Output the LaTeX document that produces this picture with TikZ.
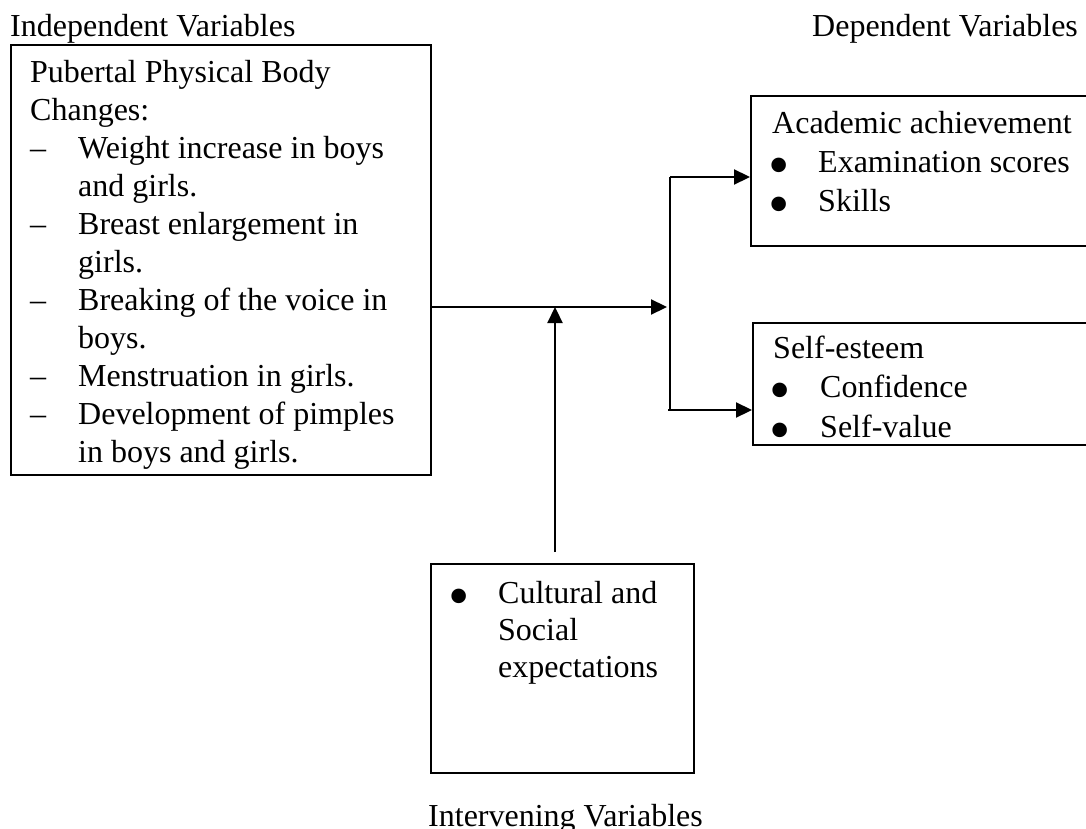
\documentclass[tikz,border=0pt]{standalone}
\usepackage{fontspec}
\setmainfont{Liberation Serif}
\usepackage{graphicx}
\usetikzlibrary{arrows.meta}
\newcommand\bul{\hspace*{-4pt}\smash{\raisebox{-13pt}{\scalebox{1.9}{•}}}}
\newcommand\mk[2]{\makebox[#1][l]{#2}}
\begin{document}
\begin{tikzpicture}[x=1pt,y=-1pt,
  box/.style={draw,line width=1.6pt,anchor=north west,inner sep=0pt},
  txt/.style={inner sep=0pt,anchor=base west,font=\fontsize{32}{38}\selectfont},
  conn/.style={line width=2.2pt},
  arr/.style={conn,-{Triangle[length=16pt,width=15pt]}}]
\useasboundingbox (0,0) rectangle (1086,829);
\clip (0,0) rectangle (1086,829);
% headings
\node[txt] (hind) at (10,37) {Independent Variables};
\node[txt] (hdep) at (812,37) {Dependent Variables};
\node[txt] (hint) at (428,826) {Intervening Variables};
% boxes
\node[box,minimum width=420pt,minimum height=430pt] (ind) at (10,44) {};
\node[box,minimum width=360pt,minimum height=150pt] (acad) at (750,95) {};
\node[box,minimum width=360pt,minimum height=122pt] (self) at (752,322) {};
\node[box,minimum width=263pt,minimum height=209pt] (int) at (430,563) {};
% texts
\node[txt] (indt) at (30,83) {\begin{tabular}[t]{@{}l@{}}
Pubertal Physical Body\\
Changes:\\
\mk{48pt}{–}Weight increase in boys\\
\mk{48pt}{}and girls.\\
\mk{48pt}{–}Breast enlargement in\\
\mk{48pt}{}girls.\\
\mk{48pt}{–}Breaking of the voice in\\
\mk{48pt}{}boys.\\
\mk{48pt}{–}Menstruation in girls.\\
\mk{48pt}{–}Development of pimples\\
\mk{48pt}{}in boys and girls.
\end{tabular}};
\node[txt,font=\fontsize{32}{39}\selectfont] (acadt) at (772,134) {\begin{tabular}[t]{@{}l@{}}
Academic achievement\\
\mk{46pt}{\bul}Examination scores\\
\mk{46pt}{\bul}Skills
\end{tabular}};
\node[txt,font=\fontsize{32}{39.5}\selectfont] (selft) at (773,358) {\begin{tabular}[t]{@{}l@{}}
Self-esteem\\
\mk{47pt}{\bul}Confidence\\
\mk{47pt}{\bul}Self-value
\end{tabular}};
\node[txt,font=\fontsize{32}{37}\selectfont] (intt) at (452,603) {\begin{tabular}[t]{@{}l@{}}
\mk{46pt}{\bul}Cultural and\\
\mk{46pt}{}Social\\
\mk{46pt}{}expectations
\end{tabular}};
% connectors
\coordinate (split) at (670,307);
\coordinate (vtop) at (670,177);
\coordinate (vbot) at (668,410);
\coordinate (upstart) at (555,552);
\coordinate (uptip) at (555,307);
\draw[arr] (ind.east |- split) -- ([xshift=-3pt]split);
\draw[conn] (vtop) -- (split) -- (670,410);
\draw[arr] (vtop) -- (acad.west |- vtop);
\draw[arr] (vbot) -- (self.west |- vbot);
\draw[arr] (upstart) -- (uptip);
\end{tikzpicture}
\end{document}
